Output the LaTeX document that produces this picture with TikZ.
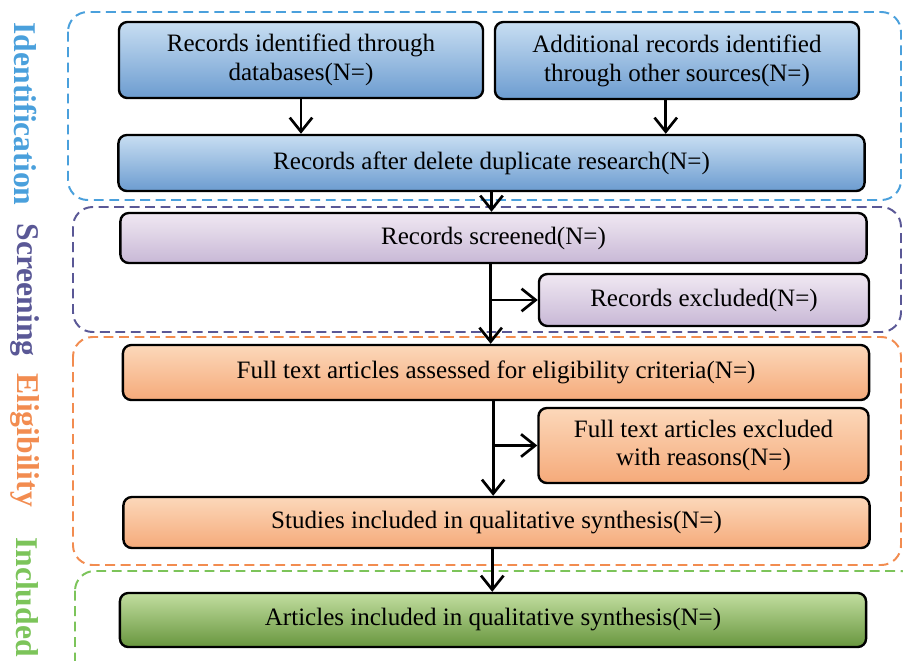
\documentclass[tikz,border=0pt]{standalone}
\usepackage{fontspec}
\setmainfont{Liberation Serif}
\usetikzlibrary{arrows.meta}

\definecolor{idblue}{RGB}{74,160,220}
\definecolor{scpurple}{RGB}{90,88,150}
\definecolor{elorange}{RGB}{242,140,80}
\definecolor{ingreen}{RGB}{124,196,90}

\tikzset{
  box/.style={draw=black, line width=1.7pt, rounded corners=6pt, align=center,
    font=\fontsize{17.8}{20.5}\selectfont, inner sep=2pt},
  bluebox/.style={box, top color={rgb,255:red,200;green,222;blue,242}, bottom color={rgb,255:red,108;green,156;blue,208}},
  purplebox/.style={box, top color={rgb,255:red,240;green,232;blue,242}, bottom color={rgb,255:red,200;green,184;blue,214}},
  orangebox/.style={box, top color={rgb,255:red,252;green,216;blue,186}, bottom color={rgb,255:red,245;green,170;blue,122}},
  greenbox/.style={box, top color={rgb,255:red,194;green,222;blue,160}, bottom color={rgb,255:red,104;green,150;blue,62}},
  wide/.style={minimum width=18.65cm},
  half/.style={minimum width=9.1cm},
  side/.style={minimum width=8.25cm},
  stage/.style={line width=1.4pt, rounded corners=14pt, dash pattern=on 7pt off 4pt},
  stagelabel/.style={rotate=-90, font=\fontsize{22.5}{24}\selectfont\bfseries},
  flow/.style={-{Straight Barb[length=10pt,width=16pt,line width=1.9pt]}, line width=1.9pt}
}

\begin{document}
\begin{tikzpicture}[x=0.025cm, y=-0.025cm]
    \useasboundingbox (0,0) rectangle (903,660);
    \clip (0,0) rectangle (903,660);

    % stages
    \draw[stage, idblue] (68,12) rectangle (901,200);
    \draw[stage, scpurple] (73,207) rectangle (901,332);
    \draw[stage, elorange] (73,337) rectangle (901,565);
    \draw[stage, ingreen] (75,571) rectangle (920,700);

    \node[stagelabel, idblue] (lid) at (25,114) {Identification};
    \node[stagelabel, scpurple] (lsc) at (25,290) {Screening};
    \node[stagelabel, elorange] (lel) at (25,440) {Eligibility};
    \node[stagelabel, ingreen] (lin) at (27,597) {Included};

    % boxes
    \node[bluebox, half, minimum height=1.9cm] (recdb) at (301,60)
      {Records identified through\\databases(N=)};
    \node[bluebox, half, minimum height=1.925cm] (recoth) at (677,60.5)
      {Additional records identified\\through other sources(N=)};
    \node[bluebox, wide, minimum height=1.4cm] (dedup) at (491.5,163)
      {Records after delete duplicate research(N=)};
    \node[purplebox, wide, minimum height=1.25cm] (screened) at (493.5,238)
      {Records screened(N=)};
    \node[purplebox, side, minimum height=1.3cm] (excl) at (704,300)
      {Records excluded(N=)};
    \node[orangebox, wide, minimum height=1.375cm] (fulltext) at (496,372.5)
      {Full text articles assessed for eligibility criteria(N=)};
    \node[orangebox, side, minimum height=1.875cm] (ftexcl) at (703.5,445.5)
      {Full text articles excluded\\with reasons(N=)};
    \node[orangebox, wide, minimum height=1.275cm] (studies) at (496.5,522.5)
      {Studies included in qualitative synthesis(N=)};
    \node[greenbox, wide, minimum height=1.35cm] (articles) at (493,620)
      {Articles included in qualitative synthesis(N=)};

    % arrows
    \draw[flow] (recdb.south) -- (recdb.south |- dedup.north);
    \draw[flow] ([xshift=-8]recoth.south) -- ([xshift=-8]recoth.south |- dedup.north);
    \draw[flow] (dedup.south) -- (dedup.south |- screened.north);
    \draw[flow] ([xshift=-2]screened.south) -- ([xshift=-2]screened.south |- fulltext.north);
    \draw[flow] ([xshift=-2]screened.south |- excl.west) -- (excl.west);
    \draw[flow] ([xshift=-2]fulltext.south) -- ([xshift=-2]fulltext.south |- studies.north);
    \draw[flow] ([xshift=-2]fulltext.south |- ftexcl.west) -- (ftexcl.west);
    \draw[flow] ([xshift=-3]studies.south) -- ([xshift=-3]studies.south |- articles.north);
\end{tikzpicture}
\end{document}
